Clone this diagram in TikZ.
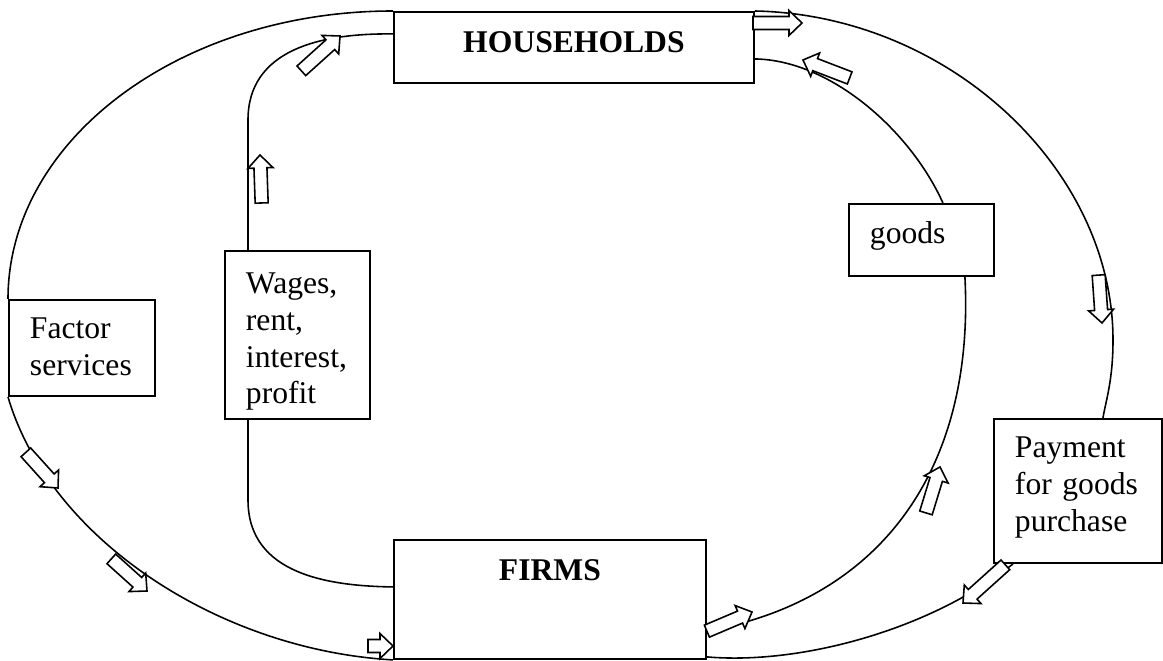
\documentclass[tikz,border=0pt]{standalone}
\usepackage{fontspec}
\setmainfont{Liberation Serif}

\begin{document}
\begin{tikzpicture}[
    x=0.02cm, y=-0.02cm,
    sector/.style={rectangle, draw, fill=white, line width=1.1pt, inner sep=0pt, anchor=north west, align=center, font=\fontsize{18}{20.8}\selectfont\bfseries},
    flowbox/.style={rectangle, draw, fill=white, line width=1.1pt, inner xsep=0.42cm, inner ysep=0pt, anchor=north west, align=left, font=\fontsize{18}{20.8}\selectfont},
    flow/.style={line width=0.9pt},
    flowarrow/.pic={\draw[line width=0.9pt, fill=white] (0,0) -- (-13,-12.5) -- (-13,-6.5) -- (-13-#1,-6.5) -- (-13-#1,6.5) -- (-13,6.5) -- (-13,12.5) -- cycle;}
]
\useasboundingbox (0,0) rectangle (1163,661);

% Sectors
\node[sector, text width=7.2cm, text height=0.82cm, text depth=0.6cm] (hh) at (393,11) {HOUSEHOLDS};
\node[sector, text width=6.24cm, text height=0.82cm, text depth=1.56cm] (firms) at (393,539) {FIRMS};

% Flow labels
\node[flowbox, text width=2.08cm, text height=0.78cm, text depth=1.14cm] (factor) at (8,299) {Factor\\services};
\node[flowbox, text width=2.06cm, text height=0.86cm, text depth=2.5cm] (wages) at (224,250) {Wages,\\rent,\\interest,\\profit};
\node[flowbox, text width=2.06cm, text height=0.8cm, text depth=0.64cm] (goods) at (848,203) {goods};
\node[flowbox, text width=2.52cm, text height=0.78cm, text depth=2.1cm] (payment) at (993,418) {Payment\\for goods\\purchase};

% Outer loop
\draw[flow] (hh.north west) .. controls (180,11) and (8,140) .. (factor.north west);
\draw[flow] (factor.south west) .. controls (50,540) and (220,650) .. (firms.south west);
\draw[flow] (hh.north east) .. controls (950,15) and (1113,170) .. (1113,340) .. controls (1113,380) and (1106,400) .. ([xshift=0.5cm]payment.north);
\draw[flow] ([xshift=0.4cm]payment.south west) .. controls (930,630) and (800,665) .. ([yshift=0.06cm]firms.south east);

% Inner loop
\draw[flow] ([yshift=0.27cm]hh.west) .. controls (320,33) and (248,50) .. (248,120) -- ([xshift=0.48cm]wages.north west);
\draw[flow] ([xshift=0.48cm]wages.south west) -- (248,500) .. controls (248,575) and (330,586) .. ([yshift=0.25cm]firms.west);
\draw[flow] ([yshift=-0.63cm]firms.east) .. controls (880,600) and (975,470) .. ([xshift=-0.6cm]goods.south east);
\draw[flow] ([xshift=0.43cm]goods.north) .. controls (910,130) and (830,60) .. ([yshift=-0.23cm]hh.east);

% Flow arrows
\pic[rotate=0] at (802,23) {flowarrow=36};
\pic[rotate=159] at (803,60) {flowarrow=37};
\pic[rotate=42] at (340,36) {flowarrow=39};
\pic[rotate=92] at (260,155) {flowarrow=35};
\pic[rotate=-48] at (58,488) {flowarrow=35};
\pic[rotate=-42] at (147,591) {flowarrow=35};
\pic at (393,646) {flowarrow=12};
\pic[rotate=23] at (752,612) {flowarrow=36};
\pic[rotate=73] at (940,467) {flowarrow=35};
\pic[rotate=-86] at (1102,323) {flowarrow=35};
\pic[rotate=-138] at (963,603) {flowarrow=44};

\end{tikzpicture}
\end{document}
